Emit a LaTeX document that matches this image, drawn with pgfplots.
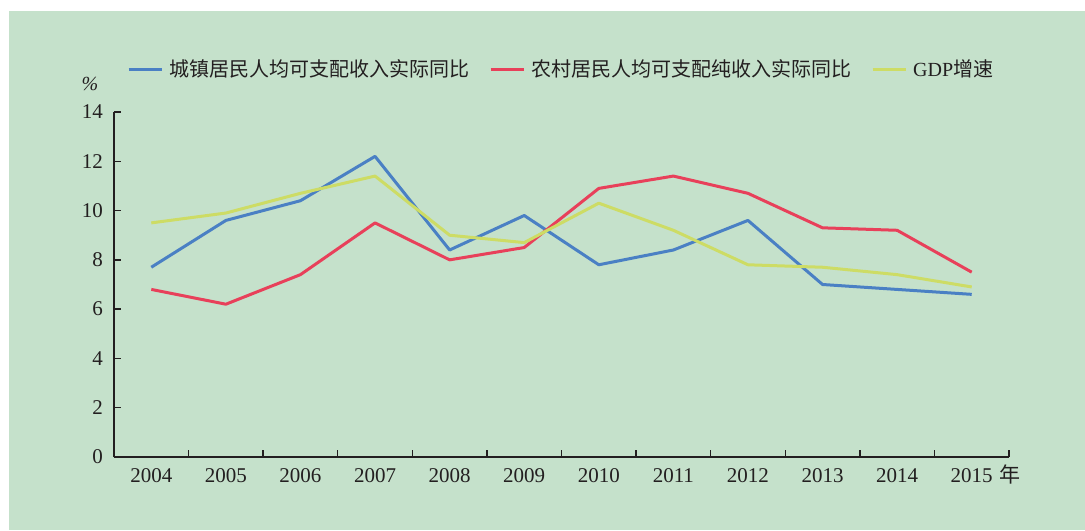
\documentclass[border=0pt]{standalone}
\usepackage{fontspec}
\setmainfont{Liberation Serif}
\newfontfamily\cjk{Noto Sans CJK SC}
\usepackage{pgfplots}
\pgfplotsset{compat=1.18}
\definecolor{panel}{HTML}{C5E1CB}
\definecolor{urban}{HTML}{4A80C4}
\definecolor{rural}{HTML}{E8405A}
\definecolor{gdp}{HTML}{CDDC65}
\definecolor{ink}{HTML}{231F20}

\begin{document}
\begin{tikzpicture}
% picture is 1085 x 530 px at 0.5pt per px
\path[use as bounding box, fill=white] (0,0) rectangle (542.5pt,265pt);
\fill[panel] (4.5pt,0) rectangle (542.5pt,259.5pt);
\begin{axis}[
  at={(57pt,36.5pt)}, anchor=south west,
  scale only axis,
  width=447.5pt, height=172.5pt,
  xmin=0.5, xmax=12.5,
  ymin=0, ymax=14,
  ytick={0,2,...,14},
  xtick={0.5,1.5,...,12.5},
  xticklabels={},
  extra x ticks={1,2,...,12},
  extra x tick labels={2004,2005,2006,2007,2008,2009,2010,2011,2012,2013,2014,2015\rlap{\smash{\kern3.5pt{\cjk\fontsize{10.5}{12}\selectfont 年}}}},
  extra x tick style={major tick length=0pt},
  axis x line*=bottom, axis y line*=left,
  axis line style={-, ink, line width=0.7pt},
  tick style={ink, line width=0.7pt},
  major tick length=3.5pt,
  tick align=inside,
  tick label style={font=\fontsize{10.5}{12}\selectfont, text=ink},
  /pgf/number format/assume math mode=true,
  xticklabel style={yshift=-2pt},
  yticklabel style={xshift=-2pt},
  ylabel={\textit{\%}},
  ylabel style={rotate=-90, at={(rel axis cs:0,1)}, anchor=south, xshift=-12pt, yshift=7pt, font=\fontsize{10}{12}\selectfont, text=ink},
  legend columns=3,
  legend style={at={(0.0142,1.122)}, anchor=west, draw=none, fill=none,
    inner sep=0pt, font=\fontsize{10}{12}\selectfont, text=ink,
    /tikz/every even column/.append style={column sep=8pt}},
  legend image code/.code={\draw[#1] (0pt,0pt) -- (16.5pt,0pt);},
  every axis plot/.append style={line width=1.5pt, line join=round},
]
\addplot[urban] coordinates {(1,7.7) (2,9.6) (3,10.4) (4,12.2) (5,8.4) (6,9.8) (7,7.8) (8,8.4) (9,9.6) (10,7.0) (11,6.8) (12,6.6)};
\addplot[rural] coordinates {(1,6.8) (2,6.2) (3,7.4) (4,9.5) (5,8.0) (6,8.5) (7,10.9) (8,11.4) (9,10.7) (10,9.3) (11,9.2) (12,7.5)};
\addplot[gdp] coordinates {(1,9.5) (2,9.9) (3,10.7) (4,11.4) (5,9.0) (6,8.7) (7,10.3) (8,9.2) (9,7.8) (10,7.7) (11,7.4) (12,6.9)};
\legend{{\kern1pt\cjk 城镇居民人均可支配收入实际同比},{\kern1pt\cjk 农村居民人均可支配纯收入实际同比},{\kern1pt GDP\cjk 增速}}
\end{axis}
\end{tikzpicture}
\end{document}
